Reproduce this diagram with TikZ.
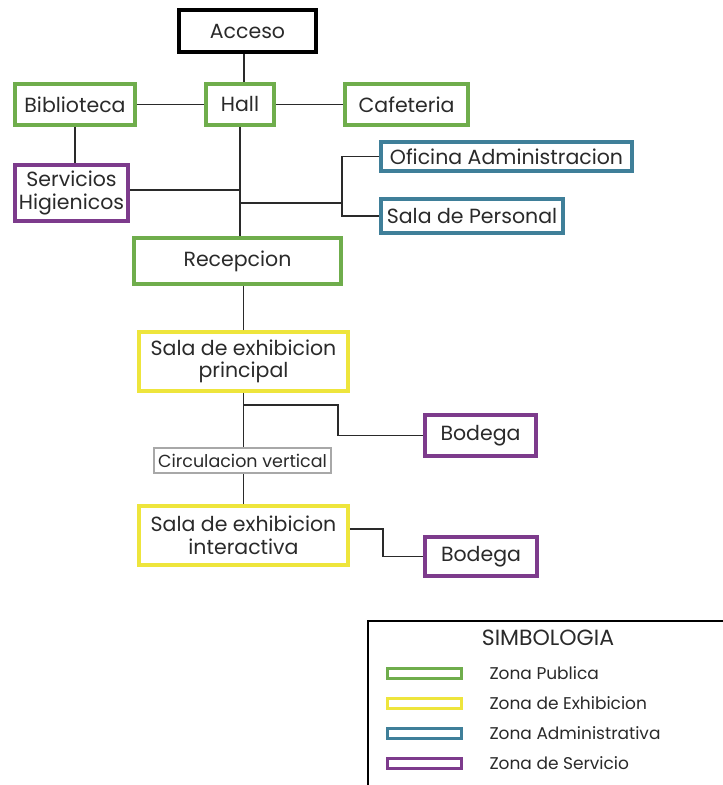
\documentclass[tikz,border=0pt]{standalone}
\usepackage{fontspec}
\setmainfont{Poppins}
\usetikzlibrary{calc}
\definecolor{zpub}{HTML}{6FAD4C}
\definecolor{zexh}{HTML}{EEE53C}
\definecolor{zadm}{HTML}{3F7F99}
\definecolor{zser}{HTML}{7D3B8C}
\definecolor{zcir}{HTML}{A8A8A8}
\definecolor{ink}{HTML}{2A2A2A}
\tikzset{
  box/.style={draw, rectangle, inner sep=0pt, align=center, text=ink,
              font=\fontsize{20.5}{22.5}\selectfont, line width=3.5pt},
  pub/.style={box, draw=zpub},
  exh/.style={box, draw=zexh},
  adm/.style={box, draw=zadm},
  ser/.style={box, draw=zser},
  cir/.style={box, draw=zcir, line width=2pt, font=\fontsize{17.5}{20}\selectfont},
  top/.style={box, draw=black, line width=4pt},
  link/.style={draw=ink, line width=1.8pt},
  swatch/.style={draw, rectangle, inner sep=0pt, minimum width=74pt, minimum height=10pt, line width=3pt},
  legtext/.style={anchor=west, text=ink, font=\fontsize{17}{19}\selectfont},
}
\begin{document}
\begin{tikzpicture}[x=1pt, y=-1pt]
\useasboundingbox (0,0) rectangle (723,785);
\fill[white] (0,0) rectangle (723,785);

% nodes of the plan
\node[top, minimum width=137pt, minimum height=42pt] (acceso) at (247.5,31) {Acceso};
\node[pub, minimum width=68pt, minimum height=41pt] (hall) at (240,104.5) {Hall};
\node[pub, minimum width=120pt, minimum height=41pt] (biblio) at (75,104.5) {Biblioteca};
\node[pub, minimum width=123pt, minimum height=41pt] (cafe) at (406.5,104.5) {Cafeteria};
\node[ser, minimum width=113pt, minimum height=56pt] (servicios) at (71.5,193) {Servicios\\Higienicos};
\node[adm, minimum width=251pt, minimum height=29pt] (oficina) at (506.5,156.5) {Oficina Administracion};
\node[adm, minimum width=182pt, minimum height=34pt] (personal) at (472,216) {Sala de Personal};
\node[pub, minimum width=207pt, minimum height=46pt] (recepcion) at (237.5,261) {Recepcion};
\node[exh, minimum width=209pt, minimum height=59pt] (principal) at (243.5,361.5) {Sala de exhibicion\\principal};
\node[ser, minimum width=111pt, minimum height=41pt] (bodega1) at (480.5,435.5) {Bodega};
\node[cir, minimum width=177pt, minimum height=25pt] (circ) at (242.5,460.5) {Circulacion vertical};
\node[exh, minimum width=209pt, minimum height=59pt] (interactiva) at (243.5,535.5) {Sala de exhibicion\\interactiva};
\node[ser, minimum width=112pt, minimum height=39pt] (bodega2) at (481,556.5) {Bodega};

% junction points
\coordinate (jserv) at (240,190);
\coordinate (jadm) at (240,203);
\coordinate (kadm) at (342,203);
\coordinate (jbod) at (243.5,405);
\coordinate (kbod1) at (338,405);
\coordinate (kbod2) at (383,529);

% connectors
\draw[link] ([xshift=-3.5pt]acceso.south) -- ([xshift=-3.5pt]acceso.south |- hall.north);
\draw[link] (biblio.east) -- (hall.west);
\draw[link] (hall.east) -- (cafe.west);
\draw[link] (biblio.south) -- (biblio.south |- servicios.north);
\draw[link] (hall.south) -- (hall.south |- recepcion.north);
\draw[link] (servicios.east |- jserv) -- (jserv);
\draw[link] (jadm) -- (kadm);
\draw[link] (oficina.west) -| (kadm) |- (personal.west);
\draw[link] (principal.north) -- (principal.north |- recepcion.south);
\draw[link] (principal.south) -- (principal.south |- circ.north);
\draw[link] (jbod) -- (kbod1) |- (bodega1.west);
\draw[link] (interactiva.north) -- (interactiva.north |- circ.south);
\draw[link] (interactiva.east |- kbod2) -- (kbod2) |- (bodega2.west);

% legend
\draw[line width=2pt] (368,621) rectangle (740,800);
\node[text=ink, font=\fontsize{22}{24}\selectfont] (simb) at (548,638) {SIMBOLOGIA};
\node[swatch, draw=zpub] (s1) at (424,673) {};
\node[swatch, draw=zexh] (s2) at (424,703) {};
\node[swatch, draw=zadm] (s3) at (424,733) {};
\node[swatch, draw=zser] (s4) at (424,763) {};
\node[legtext] (t1) at (486,673) {Zona Publica};
\node[legtext] (t2) at (486,703) {Zona de Exhibicion};
\node[legtext] (t3) at (486,733) {Zona Administrativa};
\node[legtext] (t4) at (486,763) {Zona de Servicio};
\end{tikzpicture}
\end{document}
